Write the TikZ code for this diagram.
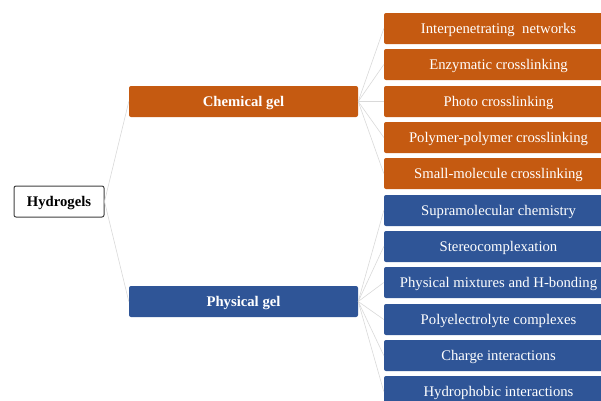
\documentclass[tikz,border=0pt]{standalone}
\usepackage{fontspec}
\setmainfont{Liberation Serif}
\definecolor{chemorange}{HTML}{C55A11}
\definecolor{physblue}{HTML}{2F5597}
\definecolor{linkgray}{HTML}{D9D9D9}
\definecolor{rootborder}{HTML}{404040}
\begin{document}
\begin{tikzpicture}[x=1pt,y=-1pt,
    box/.style={rectangle,rounded corners=2pt,minimum height=31pt,inner sep=0pt,
      text height=9.8pt,text depth=0pt,font=\fontsize{14.7}{17}\selectfont},
    rootbox/.style={box,draw=rootborder,line width=1pt,fill=white,minimum width=90pt,
      font=\fontsize{14.7}{17}\selectfont\bfseries},
    chembox/.style={box,fill=chemorange,text=white,minimum width=229pt},
    physbox/.style={box,fill=physblue,text=white,minimum width=229pt},
    link/.style={draw=linkgray,line width=0.6pt}]
  \clip (0,0) rectangle (601,400);
  \draw
    (59,201.5) node[rootbox] (h){Hydrogels}
    (243.5,101.5) node[chembox,font=\fontsize{14.7}{17}\selectfont\bfseries] (chem){Chemical gel}
    (243.5,301.5) node[physbox,font=\fontsize{14.7}{17}\selectfont\bfseries] (phys){Physical gel}
    (498.5,28.5) node[chembox] (c1){Interpenetrating\ \ networks}
    (498.5,64.5) node[chembox] (c2){Enzymatic crosslinking}
    (498.5,101.5) node[chembox] (c3){Photo crosslinking}
    (498.5,137.5) node[chembox] (c4){Polymer-polymer crosslinking}
    (498.5,173.5) node[chembox] (c5){Small-molecule crosslinking}
    (498.5,210.5) node[physbox] (p1){Supramolecular chemistry}
    (498.5,246.5) node[physbox] (p2){Stereocomplexation}
    (498.5,282.5) node[physbox] (p3){Physical mixtures and H-bonding}
    (498.5,319.5) node[physbox] (p4){Polyelectrolyte complexes}
    (498.5,355.5) node[physbox] (p5){Charge interactions}
    (498.5,391.5) node[physbox] (p6){Hydrophobic interactions};
  \begin{scope}[link]
    \draw (h.east) to (chem.west);
    \draw (h.east) to (phys.west);
    \draw (chem.east) to (c1.west);
    \draw (chem.east) to (c2.west);
    \draw (chem.east) to (c3.west);
    \draw (chem.east) to (c4.west);
    \draw (chem.east) to (c5.west);
    \draw (phys.east) to (p1.west);
    \draw (phys.east) to (p2.west);
    \draw (phys.east) to (p3.west);
    \draw (phys.east) to (p4.west);
    \draw (phys.east) to (p5.west);
    \draw (phys.east) to (p6.west);
  \end{scope}
\end{tikzpicture}
\end{document}
